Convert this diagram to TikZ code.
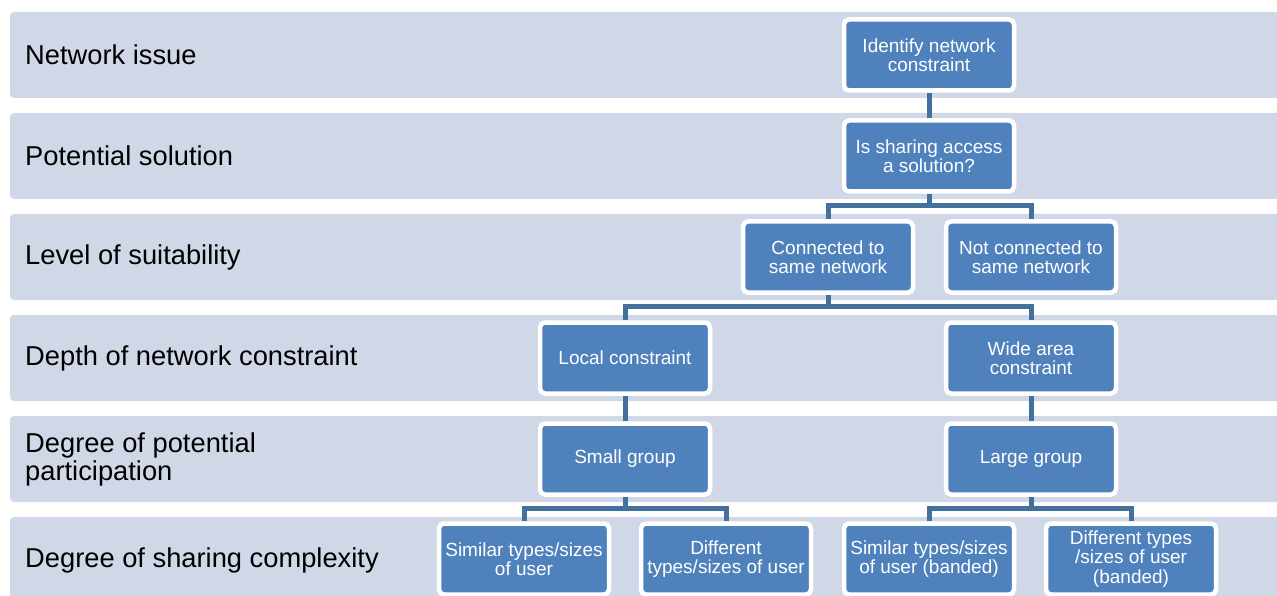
\documentclass[tikz,border=0pt]{standalone}
\usepackage{fontspec}
\setmainfont{Liberation Sans}
\usetikzlibrary{positioning}
\definecolor{bandgray}{HTML}{D0D8E8}
\definecolor{boxblue}{HTML}{4F81BD}
\definecolor{linkblue}{HTML}{41719C}

\begin{document}
\begin{tikzpicture}[x=1pt, y=-1pt, node distance=101pt,
                    row band/.style={fill=bandgray, rounded corners=4pt},
                    row label/.style={anchor=west, align=left, inner sep=0pt, font=\fontsize{27.3}{28}\selectfont},
                    main node/.style={rectangle, rounded corners=5pt, draw=white, line width=4.5pt,
                      fill=boxblue, text=white, minimum width=170pt, minimum height=71pt,
                      inner sep=0pt, align=center, font=\fontsize{19}{19.5}\selectfont},
                    link/.style={draw=linkblue, line width=5pt}]

  \clip (0,0) rectangle (1277,596);
  \fill[white] (0,0) rectangle (1277,596);

  % rows
  \foreach \i/\yt/\txt in {1/12/{Network issue}, 2/113/{Potential solution},
                           3/214/{Level of suitability}, 4/315/{Depth of network constraint},
                           5/416/{Degree of potential\\participation}, 6/517/{Degree of sharing complexity}}
  {
    \fill[row band] (10,\yt) rectangle (1300,\yt+86);
    \node[row label] (lab\i) at (25,\yt+43) {\txt};
  }

  \node[main node] (ident) at (929,55) {Identify network\\constraint};
  \node[main node] (share) [below of=ident] {Is sharing access\\a solution?};
    \node[main node] (conn) at (828,257) {Connected to\\same network};
    \node[main node] (noconn) [right of=conn, node distance=203pt] {Not connected to\\same network};
      \node[main node] (local) at (625,358) {Local constraint};
      \node[main node] (wide) at (1031,358) {Wide area\\constraint};
        \node[main node] (small) [below of=local] {Small group};
        \node[main node] (large) [below of=wide] {Large group};
          \node[main node] (simA) at (524,559) {Similar types/sizes\\of user};
          \node[main node] (difA) at (726,559) {Different\\types/sizes of user};
          \node[main node] (simB) at (929,559) {Similar types/sizes\\of user (banded)};
          \node[main node] (difB) at (1131,559) {Different types\\/sizes of user\\(banded)};

  \draw[link] (ident.south) -- (share.north);
  \draw[link] (share.south) -- ++(0,12) coordinate (forkA) -| (conn.north);
  \draw[link] (forkA) -| (noconn.north);
  \draw[link] (conn.south) -- ++(0,12) coordinate (forkB) -| (local.north);
  \draw[link] (forkB) -| (wide.north);
  \draw[link] (local.south) -- (small.north);
  \draw[link] (wide.south) -- (large.north);
  \draw[link] (small.south) -- ++(0,12) coordinate (forkC) -| (simA.north);
  \draw[link] (forkC) -| (difA.north);
  \draw[link] (large.south) -- ++(0,12) coordinate (forkD) -| (simB.north);
  \draw[link] (forkD) -| (difB.north);

\end{tikzpicture}
\end{document}
